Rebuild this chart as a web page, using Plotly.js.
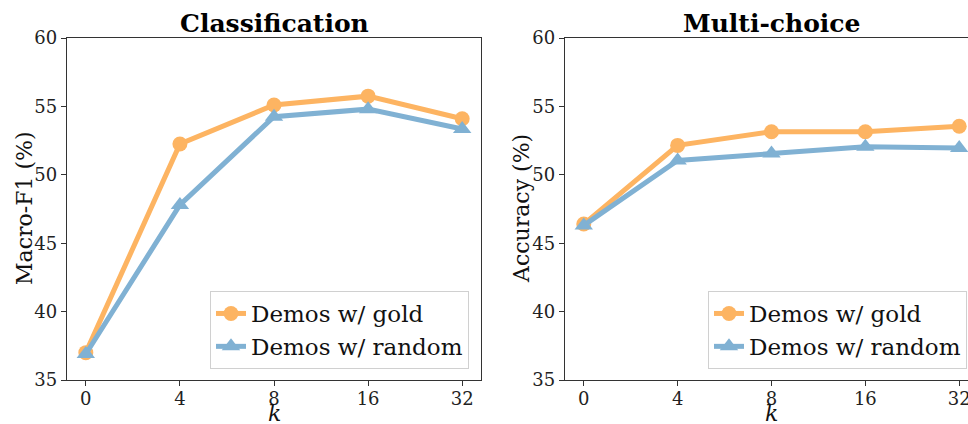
<!DOCTYPE html>
<html>
<head>
<meta charset="utf-8">
<script src="https://cdn.plot.ly/plotly-3.0.1.min.js"></script>
<style>html,body{margin:0;padding:0;background:#fff;}#chart{width:968px;height:424px;}</style>
</head>
<body>
<div id="chart"></div>
<script>
const kLabels = ['0', '4', '8', '16', '32'];
const clsGold = [37.0, 52.25, 55.1, 55.75, 54.1];
const clsRandom = [36.9, 47.8, 54.25, 54.8, 53.35];
const mcGold = [46.4, 52.15, 53.15, 53.15, 53.55];
const mcRandom = [46.3, 51.05, 51.55, 52.05, 51.95];
const seriesNames = ['Demos w/ gold', 'Demos w/ random'];
const panelTitles = ['Classification', 'Multi-choice'];
const yTitles = ['Macro-F1 (%)', 'Accuracy (%)'];
const xTitle = 'k';
const yTicks = [35, 40, 45, 50, 55, 60];

const GOLD = '#fdb462', BLUE = '#80b1d3';
const FONT = 'DejaVu Serif';
const W = 968, H = 424;

function tr(y, name, color, sym, xa, ya, leg) {
  return {
    x: kLabels, y: y, name: name, type: 'scatter', mode: 'lines+markers',
    line: {color: color, width: 5},
    marker: {color: color, size: sym === 'circle' ? 15 : 16, symbol: sym},
    xaxis: xa, yaxis: ya, legend: leg, showlegend: true
  };
}

const data = [
  tr(clsGold, seriesNames[0], GOLD, 'circle', 'x', 'y', 'legend'),
  tr(clsRandom, seriesNames[1], BLUE, 'triangle-up', 'x', 'y', 'legend'),
  tr(mcGold, seriesNames[0], GOLD, 'circle', 'x2', 'y2', 'legend2'),
  tr(mcRandom, seriesNames[1], BLUE, 'triangle-up', 'x2', 'y2', 'legend2')
];

const yTop = 1 - 38 / H, yBot = 1 - 380 / H;
function xAx(domain, range, anchor) {
  return {
    type: 'category', domain: domain, range: range, anchor: anchor,
    showline: true, linecolor: '#333', linewidth: 1.2, mirror: true,
    ticks: 'outside', ticklen: 5, tickcolor: '#333', tickwidth: 1,
    ticklabelstandoff: -3,
    showgrid: false, zeroline: false,
    tickfont: {family: FONT, size: 18, color: '#222'}
  };
}
function yAx(anchor, mirror) {
  return {
    domain: [yBot, yTop], range: [35, 60], anchor: anchor,
    tickvals: yTicks, ticktext: yTicks.map(String),
    showline: true, linecolor: '#333', linewidth: 1.2, mirror: mirror,
    ticks: 'outside', ticklen: 5, tickcolor: '#333', tickwidth: 1,
    showgrid: false, zeroline: false,
    tickfont: {family: FONT, size: 18, color: '#222'}
  };
}

const d1 = [67 / W, 481 / W];
const d2 = [565 / W, 1];
const legendBase = {
  font: {family: FONT, size: 23, color: '#111'},
  bgcolor: 'rgba(255,255,255,0.8)', bordercolor: '#d0d0d0', borderwidth: 1,
  xanchor: 'right', yanchor: 'bottom', tracegroupgap: 0, itemwidth: 30
};

const titleFont = {family: FONT, size: 25, color: '#000'};
const axTitleFont = {family: FONT, size: 22, color: '#111'};
function ann(text, x, y, font, angle) {
  return {text: text, xref: 'paper', yref: 'paper', x: x / W, y: 1 - y / H,
          xanchor: 'center', yanchor: 'middle', showarrow: false, font: font,
          textangle: angle || 0};
}

const layout = {
  width: W, height: H,
  margin: {l: 0, r: 0, t: 0, b: 0},
  paper_bgcolor: '#fff', plot_bgcolor: '#fff',
  xaxis: xAx(d1, [-0.2, 4.2], 'y'),
  yaxis: yAx('x', true),
  xaxis2: xAx(d2, [-0.2, 4.2 - (978 - 968) / 94], 'y2'),
  yaxis2: yAx('x2', false),
  legend: Object.assign({}, legendBase, {x: 469 / W, y: 1 - 369 / H}),
  legend2: Object.assign({}, legendBase, {x: 967 / W, y: 1 - 369 / H}),
  annotations: [
    ann('<b>' + panelTitles[0] + '</b>', 274, 24, titleFont),
    ann('<b>' + panelTitles[1] + '</b>', 771, 24, titleFont),
    ann(yTitles[0], 24, 209, axTitleFont, -90),
    ann(yTitles[1], 521, 209, axTitleFont, -90),
    ann('<i>' + xTitle + '</i>', 274, 413, axTitleFont),
    ann('<i>' + xTitle + '</i>', 771, 413, axTitleFont)
  ],
  showlegend: true
};

Plotly.newPlot('chart', data, layout, {staticPlot: true, displayModeBar: false});
</script>
</body>
</html>
